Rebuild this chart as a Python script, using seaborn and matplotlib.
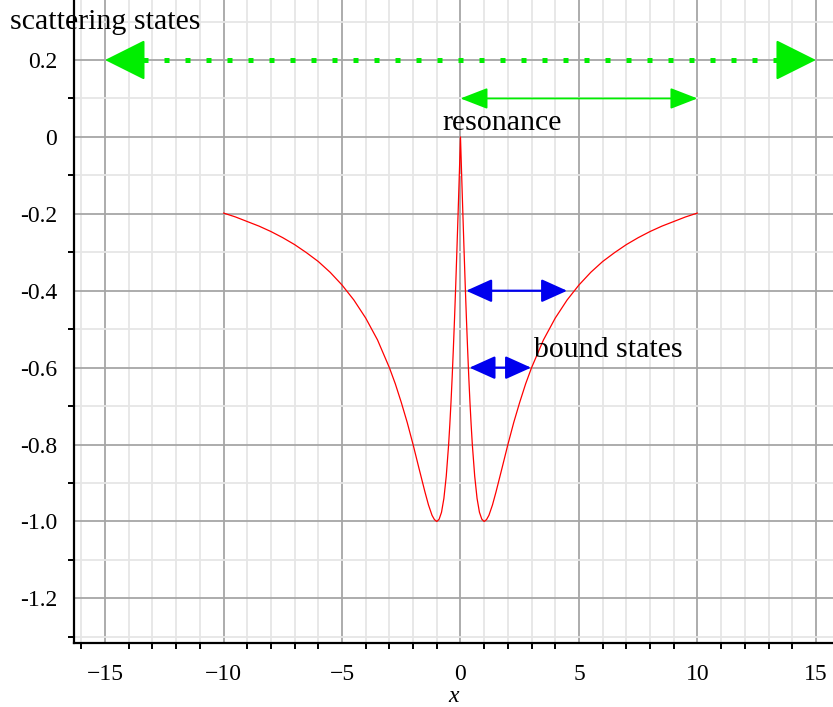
import numpy as np
import pandas as pd
import matplotlib
matplotlib.use("Agg")
import matplotlib.pyplot as plt
import seaborn as sns

# potential curve
pot_x = [-10, -9.5, -9, -8.5, -8, -7.5, -7, -6.5, -6, -5.5, -5, -4.5, -4, -3.5, -3,
         -2.75, -2.5, -2.25, -2, -1.75, -1.5, -1.35, -1.2, -1.1, -1, -0.9, -0.8, -0.7,
         -0.6, -0.5, -0.45, -0.4, -0.35, -0.3, -0.25, -0.2, -0.15, -0.1, -0.05, 0,
         0.05, 0.1, 0.15, 0.2, 0.25, 0.3, 0.35, 0.4, 0.45, 0.5, 0.6, 0.7, 0.8, 0.9,
         1, 1.1, 1.2, 1.35, 1.5, 1.75, 2, 2.25, 2.5, 2.75, 3, 3.5, 4, 4.5, 5, 5.5,
         6, 6.5, 7, 7.5, 8, 8.5, 9, 9.5, 10]
pot_y = [-0.198, -0.208, -0.220, -0.232, -0.246, -0.262, -0.280, -0.301, -0.324, -0.352,
         -0.385, -0.424, -0.471, -0.528, -0.600, -0.642, -0.690, -0.742, -0.800, -0.862,
         -0.923, -0.957, -0.984, -0.995, -1.000, -0.994, -0.976, -0.940, -0.882, -0.800,
         -0.748, -0.690, -0.624, -0.550, -0.471, -0.385, -0.293, -0.198, -0.100, 0.0,
         -0.100, -0.198, -0.293, -0.385, -0.471, -0.550, -0.624, -0.690, -0.748, -0.800,
         -0.882, -0.940, -0.976, -0.994, -1.000, -0.995, -0.984, -0.957, -0.923, -0.862,
         -0.800, -0.742, -0.690, -0.642, -0.600, -0.528, -0.471, -0.424, -0.385, -0.352,
         -0.324, -0.301, -0.280, -0.262, -0.246, -0.232, -0.220, -0.208, -0.198]

x_ticks = [-15, -10, -5, 0, 5, 10, 15]
x_labels = ["\u221215", "\u221210", "\u22125", "0", "5", "10", "15"]
y_ticks = [0.2, 0, -0.2, -0.4, -0.6, -0.8, -1.0, -1.2]
y_labels = ["0.2", "0", "-0.2", "-0.4", "-0.6", "-0.8", "-1.0", "-1.2"]

# arrows: (x start, x end, y)
scatter_arrow = (-15, 15, 0.2)
resonance_arrow = (0, 10, 0.1)
bound_arrows = [(0.24, 4.5, -0.4), (0.38, 2.98, -0.6)]

sns.set_theme(style="white")
plt.rcParams["font.family"] = ["Liberation Serif", "DejaVu Serif"]
plt.rcParams["font.size"] = 17
plt.rcParams["text.color"] = "black"
plt.rcParams["axes.labelcolor"] = "black"
plt.rcParams["xtick.color"] = "black"
plt.rcParams["ytick.color"] = "black"

fig = plt.figure(figsize=(8.33, 7.07), dpi=100)
ax = fig.add_axes([0.0888, 0.0905, 0.9112, 0.9095])

df = pd.DataFrame({"x": pot_x, "V": pot_y})
sns.lineplot(data=df, x="x", y="V", ax=ax, color="red", lw=0.9, estimator=None,
             sort=False, zorder=4)

ax.set_xlim(-16.31, 15.72)
ax.set_ylim(-1.316, 0.356)

ax.set_xticks(x_ticks)
ax.set_xticklabels(x_labels)
ax.set_yticks(y_ticks)
ax.set_yticklabels(y_labels)
ax.set_xticks(np.arange(-16, 16, 1), minor=True)
ax.set_yticks(np.arange(-1.3, 0.36, 0.1), minor=True)

ax.grid(which="major", color="#a6a6a6", lw=1.3, zorder=1)
ax.grid(which="minor", color="#e6e6e6", lw=1.3, zorder=0)
ax.set_axisbelow(True)

for s in ["top", "right"]:
    ax.spines[s].set_visible(False)
for s in ["left", "bottom"]:
    ax.spines[s].set_color("black")
    ax.spines[s].set_linewidth(1.6)

ax.tick_params(axis="x", which="major", direction="out", length=9, width=1.6, color="black",
               labelcolor="black", labelsize=17, pad=6)
ax.tick_params(axis="x", which="minor", direction="out", length=4.5, width=1.4, color="black",
               bottom=True)
ax.tick_params(axis="y", which="major", direction="out", length=6, width=1.6, color="black",
               labelcolor="black", labelsize=17, pad=6)
ax.tick_params(axis="y", which="minor", direction="out", length=4, width=1.4, color="black",
               left=True)

ax.set_xlabel("x", fontstyle="italic", fontsize=17, labelpad=0.5, color="black")
ax.set_ylabel("")

green = "#00ee00"
blue = "#0000ee"

# big dotted scattering arrow
x0, x1, yy = scatter_arrow
ax.plot([x0 + 1.6, x1 - 1.6], [yy, yy], color=green, lw=3.6,
        linestyle=(0, (1, 3.2)), zorder=5)
for tip, tail in [(x0, x0 + 1.6), (x1, x1 - 1.6)]:
    ax.annotate("", xy=(tip, yy), xytext=(tail, yy),
                arrowprops=dict(arrowstyle="-|>,head_length=0.4,head_width=0.2",
                                mutation_scale=65, color=green, lw=1.5,
                                joinstyle="round", shrinkA=0, shrinkB=0),
                zorder=6)

# resonance arrow
x0, x1, yy = resonance_arrow
ax.annotate("", xy=(x0, yy), xytext=(x1, yy),
            arrowprops=dict(arrowstyle="<|-|>,head_length=0.85,head_width=0.33",
                            mutation_scale=20, color=green, lw=1.3,
                            shrinkA=0, shrinkB=0), zorder=6)

# bound state arrows
for x0, x1, yy in bound_arrows:
    ax.annotate("", xy=(x0, yy), xytext=(x1, yy),
                arrowprops=dict(arrowstyle="<|-|>,head_length=0.8,head_width=0.36",
                                mutation_scale=20, color=blue, lw=1.6,
                                shrinkA=0, shrinkB=0), zorder=6)

fig.text(10 / 833, 1 - 22 / 707, "scattering states", fontsize=21.5, va="center",
         ha="left", color="black", zorder=10)
ax.text(-0.76, 0.036, "resonance", fontsize=21.5, va="center", ha="left",
        color="black", zorder=7)
ax.text(3.12, -0.555, "bound states", fontsize=21.5, va="center", ha="left",
        color="black", zorder=7)

fig.savefig("out.png", dpi=100)
